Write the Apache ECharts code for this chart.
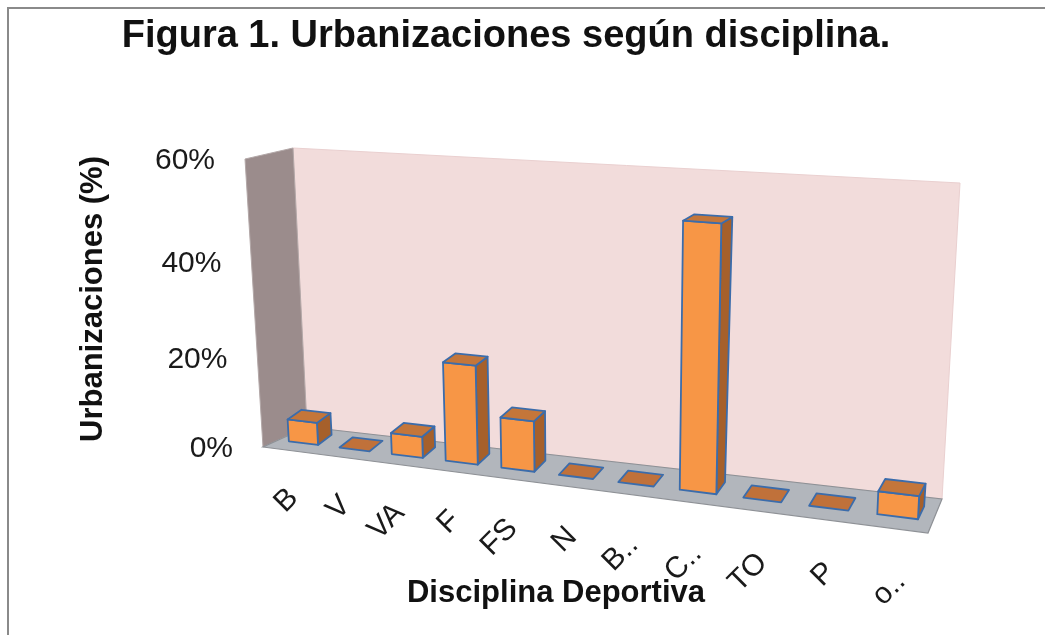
<!DOCTYPE html>
<html>
<head>
<meta charset="utf-8">
<script src="https://cdn.jsdelivr.net/npm/echarts@6/dist/echarts.min.js"></script>
<style>
html,body{margin:0;padding:0;background:#ffffff;}
#chart{width:1045px;height:635px;}
</style>
</head>
<body>
<div id="chart"></div>
<script>
// ---------------- data ----------------
const categories = ['B', 'V', 'VA', 'F', 'FS', 'N', 'B..', 'C..', 'TO', 'P', 'o..'];
const values = [5.1, 0, 4.8, 21.6, 11.1, 0, 0, 53.2, 0, 0, 4.8];
const yTicks = [0, 20, 40, 60];
const yTickLabels = ['0%', '20%', '40%', '60%'];
const titleText = 'Figura 1. Urbanizaciones según disciplina.';
const xTitle = 'Disciplina Deportiva';
const yTitle = 'Urbanizaciones (%)';

// ---------------- fake 3D projection (layout) ----------------
const FONT = '"Liberation Sans", Arial, sans-serif';
const CORNERS = {
  f0L: [263, 447], f0R: [928, 533], f1L: [245, 159], f1R: [944, 208],
  b0L: [307, 427], b0R: [942, 499], b1L: [293, 148], b1R: [960, 183]
};
const KU = 0.2, KV = 0.12;
const BAR_FRAC = 0.58, W0 = 0.35;
// screen depth offset of the bar boxes (bottom / top, left / right)
const DEPTH = { botL: [14, -10], botR: [6, -13], topL: [14, -5], topR: [10, -6] };
function lerp(a, b, t) { return [a[0] + (b[0] - a[0]) * t, a[1] + (b[1] - a[1]) * t]; }
function warpU(u) { return u / (1 + KU * (1 - u)); }
function warpV(v) { return v / (1 + KV * (1 - v)); }
function P(u, v, w) {
  const s = warpU(u), t = warpV(v);
  const f0 = lerp(CORNERS.f0L, CORNERS.f0R, s), f1 = lerp(CORNERS.f1L, CORNERS.f1R, s);
  const b0 = lerp(CORNERS.b0L, CORNERS.b0R, s), b1 = lerp(CORNERS.b1L, CORNERS.b1R, s);
  const bot = lerp(f0, b0, w), top = lerp(f1, b1, w);
  return lerp(bot, top, t);
}
function back(u, v) {
  const s = warpU(u), t = warpV(v);
  const d = lerp(lerp(DEPTH.botL, DEPTH.botR, s), lerp(DEPTH.topL, DEPTH.topR, s), t);
  const p = P(u, v, W0);
  return [p[0] + d[0], p[1] + d[1]];
}
function norm(cs, pt) {
  return [(pt[0] - cs.x) / cs.width, (cs.y + cs.height - pt[1]) / cs.height];
}

const STROKE = '#3b6cab';
function renderBar(params, api) {
  const cs = params.coordSys;
  const idx = api.value(0), val = api.value(1);
  const c = norm(cs, api.coord([idx, val]));
  const half = api.size([1, 0])[0] * BAR_FRAC / 2 / cs.width;
  const uL = c[0] - half, uR = c[0] + half, vT = c[1];
  const poly = (pts, fill) => ({
    type: 'polygon',
    shape: { points: pts },
    style: { fill: fill, stroke: STROKE, lineWidth: 1.8, lineJoin: 'round' }
  });
  const top = [P(uL, vT, W0), P(uR, vT, W0), back(uR, vT), back(uL, vT)];
  if (val <= 0) {
    return { type: 'group', children: [poly(top, '#c0713a')] };
  }
  const front = [P(uL, 0, W0), P(uR, 0, W0), P(uR, vT, W0), P(uL, vT, W0)];
  const side = [P(uR, 0, W0), back(uR, 0), back(uR, vT), P(uR, vT, W0)];
  return {
    type: 'group',
    children: [poly(side, '#a6602b'), poly(front, '#f79646'), poly(top, '#c4763a')]
  };
}

function renderYLabel(params, api) {
  const cs = params.coordSys;
  const c = norm(cs, api.coord([0, api.value(1)]));
  const p = P(0, c[1], 0);
  return {
    type: 'text',
    x: p[0] - 30, y: p[1] + 1.5,
    style: { text: yTickLabels[params.dataIndex], x: 0, y: 0, align: 'right', verticalAlign: 'middle',
      font: '30px ' + FONT, fill: '#1a1a1a' }
  };
}

function renderXLabel(params, api) {
  const cs = params.coordSys;
  const idx = api.value(0);
  const c = norm(cs, api.coord([idx, 0]));
  const p = P(c[0], 0, 0);
  const s = c[0];
  return {
    type: 'text',
    x: p[0] + 5 + 4 * s, y: p[1] + 43 + 6 * s,
    rotation: Math.PI / 4,
    style: { text: categories[idx], x: 0, y: 0, align: 'right', verticalAlign: 'middle',
      font: '30px ' + FONT, fill: '#1a1a1a' }
  };
}

const sideWall = [P(0, 0, 0), P(0, 0, 1), P(0, 1, 1), P(0, 1, 0)];
const backWall = [P(0, 0, 1), P(1, 0, 1), P(1, 1, 1), P(0, 1, 1)];
const floor = [P(0, 0, 0), P(1, 0, 0), P(1, 0, 1), P(0, 0, 1)];

const chart = echarts.init(document.getElementById('chart'), null, { renderer: 'canvas' });
chart.setOption({
  animation: false,
  backgroundColor: '#ffffff',
  grid: { left: 0, top: 0, width: 1045, height: 635 },
  xAxis: { type: 'category', data: categories, show: false },
  yAxis: { type: 'value', min: 0, max: 60, interval: 20, show: false },
  graphic: [
    { type: 'polygon', z: 0, shape: { points: backWall }, style: { fill: '#f2dcdb', stroke: '#ead0d0', lineWidth: 1 } },
    { type: 'polygon', z: 0, shape: { points: sideWall }, style: { fill: '#9b8c8c', stroke: '#b3a8a8', lineWidth: 1 } },
    { type: 'polygon', z: 0, shape: { points: floor }, style: { fill: '#b2b6bc', stroke: '#8e9196', lineWidth: 1.2 } },
    { type: 'rect', z: 20, shape: { x: 8, y: 8, width: 1200, height: 800 }, style: { fill: 'none', stroke: '#8a8a8a', lineWidth: 2 } },
    { type: 'text', z: 20, x: 506, y: 37, style: { text: titleText, align: 'center', verticalAlign: 'middle',
      font: 'bold 38px ' + FONT, fill: '#111111' } },
    { type: 'text', z: 20, x: 556, y: 593, style: { text: xTitle, align: 'center', verticalAlign: 'middle',
      font: 'bold 31px ' + FONT, fill: '#111111' } },
    { type: 'text', z: 20, x: 93, y: 299, rotation: Math.PI / 2, style: { text: yTitle, align: 'center', verticalAlign: 'middle',
      font: 'bold 31px ' + FONT, fill: '#111111' } }
  ],
  series: [
    { type: 'custom', name: 'Urbanizaciones', coordinateSystem: 'cartesian2d', z: 5,
      data: values.map((v, i) => [i, v]), encode: { x: 0, y: 1 }, renderItem: renderBar },
    { type: 'custom', name: 'yLabels', coordinateSystem: 'cartesian2d', z: 6, silent: true,
      data: yTicks.map(t => [0, t]), encode: { x: 0, y: 1 }, renderItem: renderYLabel },
    { type: 'custom', name: 'xLabels', coordinateSystem: 'cartesian2d', z: 6, silent: true,
      data: categories.map((c, i) => [i, 0]), encode: { x: 0, y: 1 }, renderItem: renderXLabel }
  ]
});
</script>
</body>
</html>
